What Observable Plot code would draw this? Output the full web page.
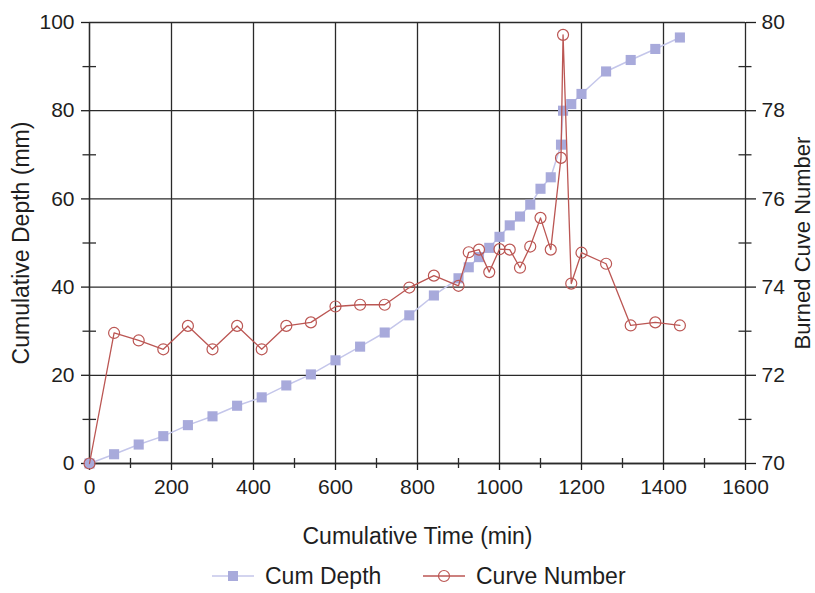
<!DOCTYPE html>
<html><head><meta charset="utf-8">
<script src="https://cdn.jsdelivr.net/npm/d3@7"></script>
<script src="https://cdn.jsdelivr.net/npm/@observablehq/plot@0.6"></script>
<style>
body{margin:0;background:#fff;font-family:"Liberation Sans",Arial,Helvetica,sans-serif;}
#legend{position:relative;height:38px;width:815px;font-size:23px;color:#1e1e1e;}
#legend .item{position:absolute;top:5px;display:flex;align-items:center;height:32px;white-space:nowrap;}
#legend svg{margin-right:11px;}
</style></head><body>
<div id="chart"></div>
<div id="legend">
  <div class="item" style="left:212px"><svg width="42" height="20"><line x1="0" y1="10" x2="42" y2="10" stroke="#c4c6ea" stroke-width="1.5"/><rect x="16" y="5" width="10" height="10" fill="#a8aadb"/></svg><span>Cum Depth</span></div>
  <div class="item" style="left:423px"><svg width="42" height="20"><line x1="0" y1="10" x2="42" y2="10" stroke="#bb5653" stroke-width="1.3"/><circle cx="21" cy="10" r="5.5" fill="none" stroke="#bb5653" stroke-width="1.2"/></svg><span>Curve Number</span></div>
</div>
<script>
const times = [0,60,120,180,240,300,360,420,480,540,600,660,720,780,840,900,925,950,975,1000,1025,1050,1075,1100,1125,1150,1155,1175,1200,1260,1320,1380,1440];
const cumDepth = [0,2.1,4.3,6.2,8.7,10.7,13.1,15.0,17.7,20.2,23.4,26.5,29.7,33.6,38.1,42.0,44.5,46.8,48.9,51.4,54.0,56.0,58.7,62.3,64.9,72.3,80.0,81.5,83.8,88.9,91.5,94.0,96.6];
const curveNumber = [70.0,72.96,72.79,72.59,73.12,72.59,73.12,72.59,73.12,73.20,73.56,73.60,73.60,73.99,74.26,74.03,74.79,74.85,74.34,74.86,74.85,74.44,74.92,75.57,74.85,76.93,79.72,74.08,74.78,74.53,73.13,73.20,73.13];
const xTicks = [0,200,400,600,800,1000,1200,1400,1600];
const xMinor = [100,300,500,700,900,1100,1300,1500];
const yTicks = [0,20,40,60,80,100];
const yMinor = [10,30,50,70,90];
const cnTicks = [70,72,74,76,78,80];
const cnMinor = [71,73,75,77,79];

const cnMin = 70, cnMax = 80;
const cnToY = v => (v - cnMin) / (cnMax - cnMin) * 100;
const rows = times.map((t, i) => ({t, depth: cumDepth[i], cn: curveNumber[i]}));

const ink = "#1e1e1e";
const gridStyle = {stroke: "#2a2a2a", strokeOpacity: 1, strokeWidth: 1.3};
const blank = () => "";

const chart = Plot.plot({
  width: 815, height: 555,
  marginLeft: 89, marginRight: 70, marginTop: 22, marginBottom: 92,
  style: {fontFamily: '"Liberation Sans", Arial, Helvetica, sans-serif', fontSize: "21px", color: ink, background: "#fff", overflow: "visible"},
  x: {domain: [0, 1600]},
  y: {domain: [0, 100]},
  marks: [
    Plot.gridX(xTicks, gridStyle),
    Plot.gridY(yTicks, gridStyle),
    Plot.ruleX([0], {stroke: "#2a2a2a", strokeWidth: 1.3}),
    Plot.ruleY([0], {stroke: "#2a2a2a", strokeWidth: 1.3}),
    Plot.ruleX(xMinor, {y1: 0, y2: 0, insetTop: 5, insetBottom: 5, stroke: "#2a2a2a", strokeWidth: 1.3}),
    Plot.ruleY(yMinor, {x1: 0, x2: 0, insetLeft: 7, insetRight: 6.5, stroke: "#2a2a2a", strokeWidth: 1.3}),
    Plot.ruleY(cnMinor.map(cnToY), {x1: 1600, x2: 1600, insetLeft: 6.5, insetRight: 6.5, stroke: "#2a2a2a", strokeWidth: 1.3}),
    // tick marks and tick labels
    Plot.axisX({ticks: xTicks, tickFormat: d => String(d), tickSize: 7, tickPadding: 9, fontSize: 21, strokeWidth: 1.3, label: null}),
    Plot.axisY({anchor: "left", ticks: yTicks, tickFormat: d => String(d), tickSize: 8, tickPadding: 7, fontSize: 21, strokeWidth: 1.3, label: null}),
    Plot.axisY({anchor: "right", ticks: cnTicks.map(cnToY), tickFormat: d => String(Math.round(cnMin + d / 100 * (cnMax - cnMin))),
      tickSize: 10, tickPadding: 6, fontSize: 21, strokeWidth: 1.3, label: null}),
    // axis titles
    Plot.axisX({ticks: xTicks, tickSize: 0, tickFormat: blank, fontSize: 23,
      label: "Cumulative Time (min)", labelAnchor: "center", labelOffset: 80, labelArrow: "none"}),
    Plot.axisY({anchor: "left", ticks: yTicks, tickSize: 0, tickFormat: blank, fontSize: 23,
      label: "Cumulative Depth (mm)", labelAnchor: "center", labelOffset: 77, labelArrow: "none"}),
    Plot.axisY({anchor: "right", ticks: yTicks, tickSize: 0, tickFormat: blank, fontSize: 22,
      label: "Burned Cuve Number", labelAnchor: "center", labelOffset: 64, labelArrow: "none"}),
    Plot.line(rows, {x: "t", y: "depth", stroke: "#c4c6ea", strokeWidth: 1.5}),
    Plot.dot(rows, {x: "t", y: "depth", symbol: "square", r: 5.7, fill: "#a8aadb", stroke: "none"}),
    Plot.line(rows, {x: "t", y: d => cnToY(d.cn), stroke: "#bb5653", strokeWidth: 1.3}),
    Plot.dot(rows, {x: "t", y: d => cnToY(d.cn), r: 5.5, stroke: "#bb5653", fill: "none", strokeWidth: 1.2})
  ]
});
document.getElementById("chart").appendChild(chart);
</script>
</body></html>
